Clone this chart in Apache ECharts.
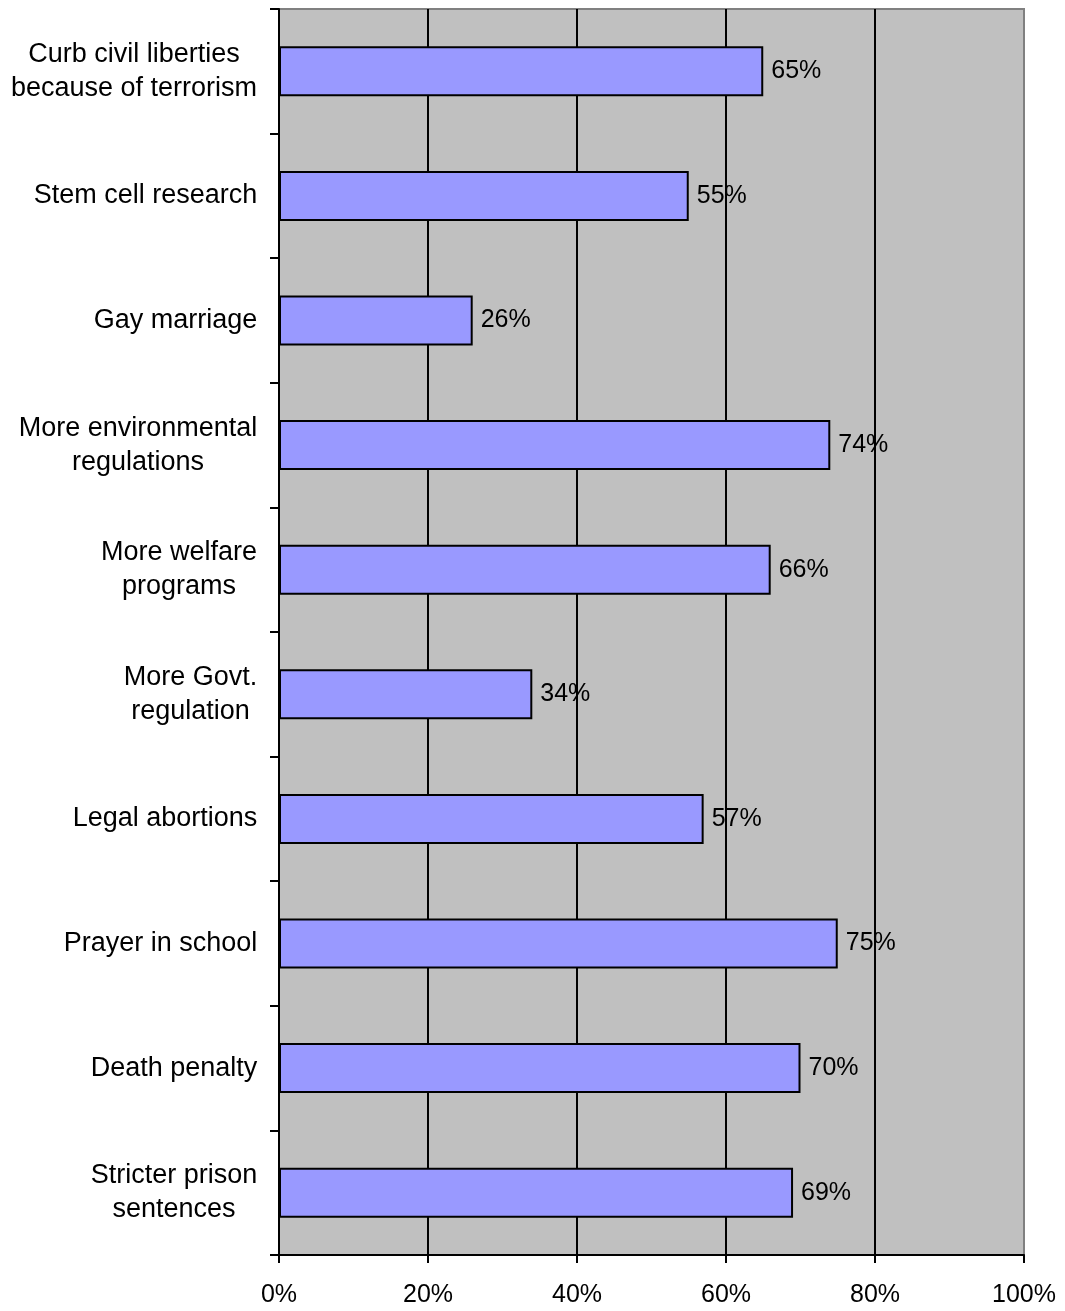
<!DOCTYPE html>
<html>
<head>
<meta charset="utf-8">
<script src="https://cdn.jsdelivr.net/npm/echarts@6/dist/echarts.min.js"></script>
<style>
html,body{margin:0;padding:0;background:#fff;}
#chart{width:1065px;height:1311px;}
</style>
</head>
<body>
<div id="chart"></div>
<script>
const categories = [
  "Curb civil liberties\nbecause of terrorism",
  "Stem cell research",
  "Gay marriage",
  "More environmental\nregulations",
  "More welfare\nprograms",
  "More Govt.\nregulation",
  "Legal abortions",
  "Prayer in school",
  "Death penalty",
  "Stricter prison\nsentences"
];
const values = [65, 55, 26, 74, 66, 34, 57, 75, 70, 69];
const xTicks = [0, 20, 40, 60, 80, 100];

const FONT = '"Liberation Sans", Arial, sans-serif';
const CAT_SIZE = 27;

// measure each label's widest line so multi-line labels can be centred within their block
const ctx = document.createElement('canvas').getContext('2d');
ctx.font = CAT_SIZE + 'px ' + FONT;
const rich = {};
categories.forEach((c, i) => {
  const w = Math.max(...c.split('\n').map(l => ctx.measureText(l).width));
  rich['b' + i] = { width: Math.ceil(w) + 1, align: 'center', fontSize: CAT_SIZE, color: '#000', lineHeight: 34, fontFamily: FONT };
});

const chart = echarts.init(document.getElementById('chart'));
chart.setOption({
  animation: false,
  textStyle: { fontFamily: FONT },
  grid: {
    left: 279, right: 41, top: 9, bottom: 56,
    show: true,
    backgroundColor: '#C0C0C0',
    borderColor: '#808080',
    borderWidth: 2
  },
  xAxis: {
    type: 'value',
    min: xTicks[0],
    max: xTicks[xTicks.length - 1],
    interval: 20,
    axisLine: { show: true, lineStyle: { color: '#000', width: 2 } },
    axisTick: { show: true, length: 8, lineStyle: { color: '#000', width: 2 } },
    axisLabel: { formatter: '{value}%', fontSize: 25, color: '#000', margin: 28 },
    splitLine: { show: true, lineStyle: { color: ['#000', '#000', '#000', '#000', '#000', '#808080'], width: 2 } }
  },
  yAxis: {
    type: 'category',
    inverse: true,
    data: categories,
    axisLine: { show: true, lineStyle: { color: '#000', width: 2 } },
    axisTick: { show: true, length: 9, lineStyle: { color: '#000', width: 2 } },
    axisLabel: {
      fontSize: CAT_SIZE, color: '#000', lineHeight: 34, margin: 21, align: 'right',
      formatter: (v, i) => v.split('\n').map(l => '{b' + i + '|' + l + '}').join('\n'),
      rich: rich
    },
    splitLine: { show: false }
  },
  series: [{
    type: 'bar',
    data: values,
    barWidth: 50,
    itemStyle: { color: '#9999FF', borderColor: '#000', borderWidth: 2 },
    label: {
      show: true,
      position: 'right',
      distance: 8,
      formatter: '{c}%',
      fontSize: 25,
      color: '#000'
    }
  }]
});
</script>
</body>
</html>
